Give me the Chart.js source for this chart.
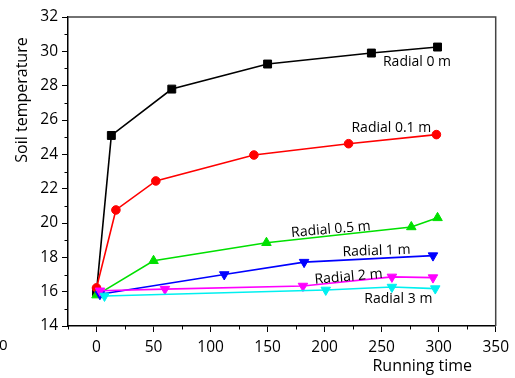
<!DOCTYPE html>
<html>
<head>
<meta charset="utf-8">
<script src="https://cdn.jsdelivr.net/npm/chart.js@4/dist/chart.umd.min.js"></script>
<style>
  html, body { margin: 0; padding: 0; background: #fff; }
  #wrap { width: 515px; height: 378px; }
</style>
</head>
<body>
<div id="wrap"><canvas id="chart" width="515" height="378"></canvas></div>
<script>
// Running time (x) and soil temperature (y) for each radial distance
const time0 = [0, 13, 66, 150, 241, 299];
const temp0 = [16.0, 25.1, 27.8, 29.26, 29.9, 30.25];

const time01 = [0, 17, 52, 138, 221, 298];
const temp01 = [16.22, 20.76, 22.45, 23.96, 24.62, 25.15];

const time05 = [0, 50, 149, 276, 299];
const temp05 = [15.8, 17.8, 18.85, 19.77, 20.3];

const time1 = [3, 112, 182, 295];
const temp1 = [15.85, 17.0, 17.72, 18.1];

const time2 = [3, 60, 181, 259, 295];
const temp2 = [16.05, 16.15, 16.33, 16.86, 16.82];

const time3 = [7, 201, 259, 297];
const temp3 = [15.75, 16.1, 16.27, 16.18];

const seriesNames = ['Radial 0 m', 'Radial 0.1 m', 'Radial 0.5 m', 'Radial 1 m', 'Radial 2 m', 'Radial 3 m'];

const xTickValues = [0, 50, 100, 150, 200, 250, 300, 350];
const yTickValues = [14, 16, 18, 20, 22, 24, 26, 28, 30, 32];

const FONT = '"Open Sans", "Noto Sans", sans-serif';

function pts(xs, ys) {
    return xs.map((x, i) => ({ x: x, y: ys[i] }));
}

// Series labels placed next to the curves (data coordinates), with slight tilt
const seriesLabels = [
    { text: seriesNames[0], x: 281, y: 29.38, angle: 0 },
    { text: seriesNames[1], x: 258.5, y: 25.54, angle: 0 },
    { text: seriesNames[2], x: 205.5, y: 19.62, angle: -5 },
    { text: seriesNames[3], x: 245.5, y: 18.37, angle: -2 },
    { text: seriesNames[4], x: 221, y: 16.86, angle: -5 },
    { text: seriesNames[5], x: 264.6, y: 15.58, angle: 0 }
];

// Extras: frame, minor ticks, axis titles, series labels
const extrasPlugin = {
    id: 'extras',
    afterDraw(chart) {
        const ctx = chart.ctx;
        const area = chart.chartArea;
        const xs = chart.scales.x;
        const ys = chart.scales.y;

        ctx.save();
        // top and right frame
        ctx.strokeStyle = '#444';
        ctx.lineWidth = 1.5;
        ctx.beginPath();
        ctx.moveTo(area.left, area.top);
        ctx.lineTo(area.right, area.top);
        ctx.lineTo(area.right, area.bottom);
        ctx.stroke();

        // minor ticks
        ctx.strokeStyle = '#000';
        ctx.lineWidth = 1;
        ctx.beginPath();
        for (let v = -25; v <= 350; v += 50) {
            const px = Math.round(xs.getPixelForValue(v)) + 0.5;
            ctx.moveTo(px, area.bottom);
            ctx.lineTo(px, area.bottom + 3.5);
        }
        for (let v = 15; v < 32; v += 2) {
            const py = Math.round(ys.getPixelForValue(v)) + 0.5;
            ctx.moveTo(area.left, py);
            ctx.lineTo(area.left - 3.5, py);
        }
        ctx.stroke();

        // axis titles
        ctx.fillStyle = '#000';
        ctx.font = '16px ' + FONT;
        ctx.textAlign = 'right';
        ctx.textBaseline = 'middle';
        ctx.fillText('Running time', 472, 366);

        ctx.save();
        ctx.translate(22, 100);
        ctx.rotate(-Math.PI / 2);
        ctx.textAlign = 'center';
        ctx.fillText('Soil temperature', 0, 0);
        ctx.restore();

        // stray clipped tick label at far left
        ctx.font = '15px ' + FONT;
        ctx.textAlign = 'left';
        ctx.fillText('0', -1, 346);

        // series labels
        ctx.font = '14px ' + FONT;
        ctx.textAlign = 'center';
        seriesLabels.forEach(function(lab) {
            ctx.save();
            ctx.translate(xs.getPixelForValue(lab.x), ys.getPixelForValue(lab.y));
            ctx.rotate(lab.angle * Math.PI / 180);
            ctx.fillText(lab.text, 0, 0);
            ctx.restore();
        });
        ctx.restore();
    }
};

function makeSet(label, xsArr, ysArr, color, style, radius, rotation) {
    return {
        label: label,
        data: pts(xsArr, ysArr),
        borderColor: color,
        backgroundColor: color,
        borderWidth: 1.6,
        pointStyle: style,
        pointRadius: radius,
        pointRotation: rotation || 0,
        pointBorderWidth: 1,
        pointBorderColor: color,
        pointBackgroundColor: color,
        tension: 0
    };
}

const ctx = document.getElementById('chart').getContext('2d');
new Chart(ctx, {
    type: 'line',
    data: {
        datasets: [
            makeSet(seriesNames[5], time3, temp3, '#00f0f0', 'triangle', 5.5, 180),
            makeSet(seriesNames[4], time2, temp2, '#ff00ff', 'triangle', 5.5, 180),
            makeSet(seriesNames[3], time1, temp1, '#0000ff', 'triangle', 5.5, 180),
            makeSet(seriesNames[2], time05, temp05, '#00e000', 'triangle', 5.5, 0),
            makeSet(seriesNames[1], time01, temp01, '#ff0000', 'circle', 4.3, 0),
            makeSet(seriesNames[0], time0, temp0, '#000000', 'rect', 5.6, 0)
        ]
    },
    options: {
        responsive: false,
        animation: false,
        layout: { padding: { top: 17, right: 18, left: 0, bottom: 0 } },
        plugins: {
            legend: { display: false },
            tooltip: { enabled: false }
        },
        scales: {
            x: {
                type: 'linear',
                min: -25,
                max: 350,
                afterBuildTicks: function(scale) {
                    scale.ticks = xTickValues.map(v => ({ value: v }));
                },
                afterFit: function(scale) { scale.height = 52; },
                border: { display: true, color: '#000', width: 1.5 },
                grid: { drawOnChartArea: false, drawTicks: true, tickLength: 6, color: '#000', lineWidth: 1 },
                ticks: { color: '#000', font: { family: FONT, size: 15.5 }, padding: 6, maxRotation: 0, autoSkip: false }
            },
            y: {
                type: 'linear',
                min: 14,
                max: 32,
                afterBuildTicks: function(scale) {
                    scale.ticks = yTickValues.map(v => ({ value: v }));
                },
                afterFit: function(scale) { scale.width = 68; },
                border: { display: true, color: '#000', width: 1.5 },
                grid: { drawOnChartArea: false, drawTicks: true, tickLength: 6, color: '#000', lineWidth: 1 },
                ticks: { color: '#000', font: { family: FONT, size: 15.5 }, padding: 4, autoSkip: false }
            }
        }
    },
    plugins: [extrasPlugin]
});
</script>
</body>
</html>
